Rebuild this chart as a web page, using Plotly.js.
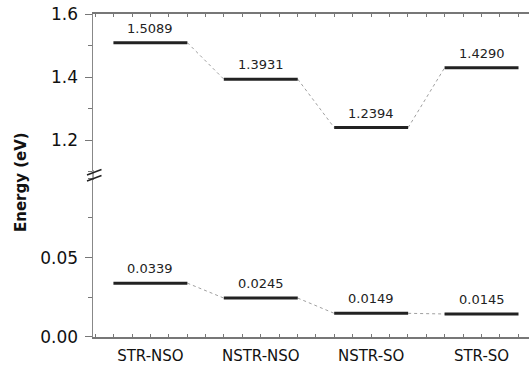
<!DOCTYPE html>
<html>
<head>
<meta charset="utf-8">
<script src="https://cdn.plot.ly/plotly-3.0.1.min.js"></script>
<style>html,body{margin:0;padding:0;background:#fff;}#chart{width:529px;height:369px;}</style>
</head>
<body>
<div id="chart"></div>
<script>
const categories = ["STR-NSO", "NSTR-NSO", "NSTR-SO", "STR-SO"];
const upperValues = [1.5089, 1.3931, 1.2394, 1.4290];
const lowerValues = [0.0339, 0.0245, 0.0149, 0.0145];
const upperLabels = ["1.5089", "1.3931", "1.2394", "1.4290"];
const lowerLabels = ["0.0339", "0.0245", "0.0149", "0.0145"];
const upperTicks = [1.2, 1.4, 1.6];
const upperTickText = ["1.2", "1.4", "1.6"];
const lowerTicks = [0, 0.05];
const lowerTickText = ["0.00", "0.05"];

const HALF = 0.335;
const FONT = "DejaVu Sans, Arial, sans-serif";

function levelTraces(vals, xa, ya) {
  const bx = [], by = [], cx = [], cy = [];
  vals.forEach((v, i) => {
    bx.push(i - HALF, i + HALF, null);
    by.push(v, v, null);
    if (i < vals.length - 1) {
      cx.push(i + HALF, i + 1 - HALF, null);
      cy.push(v, vals[i + 1], null);
    }
  });
  return [
    {x: cx, y: cy, xaxis: xa, yaxis: ya, mode: "lines", type: "scatter",
     line: {color: "#a0a0a0", width: 1, dash: "dot"}, hoverinfo: "skip", showlegend: false},
    {x: bx, y: by, xaxis: xa, yaxis: ya, mode: "lines", type: "scatter",
     line: {color: "#222", width: 3}, hoverinfo: "skip", showlegend: false}
  ];
}

const traces = [
  ...levelTraces(lowerValues, "x", "y"),
  ...levelTraces(upperValues, "x", "y2"),
  {x: [0], y: [1.5], xaxis: "x2", yaxis: "y2", mode: "markers", marker: {opacity: 0}, hoverinfo: "skip", showlegend: false}
];

const annotations = [];
upperValues.forEach((v, i) => annotations.push({x: i, y: v, xref: "x", yref: "y2", text: upperLabels[i],
  showarrow: false, yanchor: "bottom", yshift: 5, font: {family: FONT, size: 13, color: "#222"}}));
lowerValues.forEach((v, i) => annotations.push({x: i, y: v, xref: "x", yref: "y", text: lowerLabels[i],
  showarrow: false, yanchor: "bottom", yshift: 5, font: {family: FONT, size: 13, color: "#222"}}));
annotations.push({xref: "paper", yref: "paper", x: -0.165, y: 0.48, text: "<b>Energy (eV)</b>", textangle: -90,
  showarrow: false, xanchor: "center", yanchor: "middle", font: {family: FONT, size: 15, color: "#111"}});

// pixel helpers for break marks (plot area: x 93..529, y 14..337)
const px = p => (p - 93) / 436;
const py = p => (337 - p) / 323;

const shapes = [
  {type: "line", xref: "paper", yref: "paper", x0: 0, x1: 0, y0: py(180), y1: py(170), line: {color: "#888", width: 1.5}},
  {type: "line", xref: "paper", yref: "paper", x0: px(87), x1: px(101.5), y0: py(175), y1: py(169.5), line: {color: "#222", width: 1.5}},
  {type: "line", xref: "paper", yref: "paper", x0: px(87), x1: px(101.5), y0: py(181), y1: py(175.5), line: {color: "#222", width: 1.5}}
];

const xRange = [-0.52, 3.43];
const layout = {
  width: 529, height: 369,
  margin: {l: 93, r: 0, t: 14, b: 32},
  paper_bgcolor: "#fff", plot_bgcolor: "#fff",
  showlegend: false,
  xaxis: {
    range: xRange, anchor: "y", tickmode: "array", tickvals: [0, 1, 2, 3], ticktext: categories,
    ticks: "inside", ticklen: 3, tickcolor: "#777", showline: true, linecolor: "#777", linewidth: 2,
    showgrid: false, zeroline: false, ticklabelstandoff: 4,
    minor: {dtick: 1/6, tick0: 0, ticks: "inside", ticklen: 3, tickcolor: "#777"},
    tickfont: {family: FONT, size: 15, color: "#111"}
  },
  xaxis2: {
    range: xRange, anchor: "y2", overlaying: "x", side: "top", showticklabels: false,
    tickmode: "array", tickvals: [0, 1, 2, 3],
    ticks: "inside", ticklen: 3, tickcolor: "#777", showline: true, linecolor: "#777", linewidth: 2,
    showgrid: false, zeroline: false,
    minor: {dtick: 1/6, tick0: 0, ticks: "inside", ticklen: 3, tickcolor: "#777"}
  },
  yaxis: {
    domain: [0, 0.4923], range: [0, 0.1001], anchor: "x",
    tickmode: "array", tickvals: lowerTicks, ticktext: lowerTickText,
    ticks: "outside", ticklen: 7, tickcolor: "#777", showline: true, linecolor: "#888", linewidth: 1.5,
    mirror: "ticks", showgrid: false, zeroline: false, ticklabelstandoff: 3,
    minor: {tickmode: "linear", tick0: 0, dtick: 0.025, ticks: "outside", ticklen: 4, tickcolor: "#777"},
    tickfont: {family: FONT, size: 17, color: "#111"}
  },
  yaxis2: {
    domain: [0.5124, 1], range: [1.1, 1.6], anchor: "x",
    tickmode: "array", tickvals: upperTicks, ticktext: upperTickText,
    ticks: "outside", ticklen: 7, tickcolor: "#777", showline: true, linecolor: "#888", linewidth: 1.5,
    mirror: "ticks", showgrid: false, zeroline: false, ticklabelstandoff: 3,
    minor: {tickmode: "linear", tick0: 0, dtick: 0.1, ticks: "outside", ticklen: 4, tickcolor: "#777"},
    tickfont: {family: FONT, size: 17, color: "#111"}
  },
  annotations: annotations,
  shapes: shapes
};

Plotly.newPlot("chart", traces, layout, {displayModeBar: false, staticPlot: true});
</script>
</body>
</html>
